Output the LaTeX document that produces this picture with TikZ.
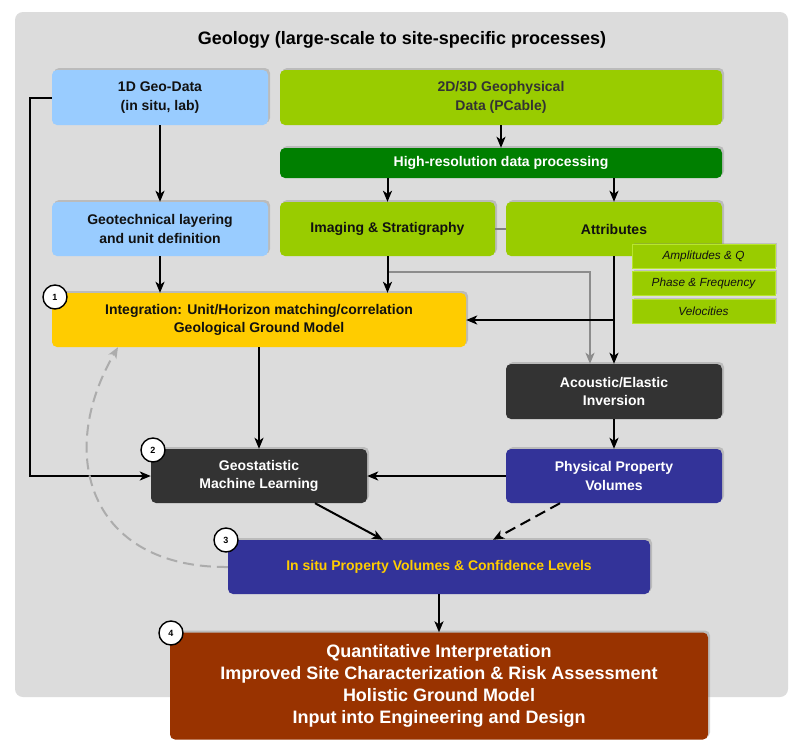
\documentclass[tikz,border=0pt]{standalone}
\usepackage{fontspec}
\setmainfont{Liberation Sans}
\usetikzlibrary{shadows,arrows.meta}
\definecolor{lblue}{HTML}{99CCFF}
\definecolor{lgreen}{HTML}{99CC00}
\definecolor{lgreenb}{HTML}{B8E62E}
\definecolor{dgreen}{HTML}{007F00}
\definecolor{gold}{HTML}{FFCC00}
\definecolor{dgray}{HTML}{333333}
\definecolor{pblue}{HTML}{333399}
\definecolor{brown}{HTML}{993300}
\definecolor{panel}{HTML}{DCDCDC}
\definecolor{txt}{HTML}{111111}
\tikzset{
  box/.style={rounded corners=5pt, align=center, inner sep=2pt,
    font=\bfseries\fontsize{14}{18.5}\selectfont, text=txt,
    drop shadow={shadow xshift=2pt, shadow yshift=2pt, opacity=0.35}},
  attr/.style={draw=lgreenb, line width=1pt, fill=lgreen, align=center,
    font=\itshape\fontsize{11.8}{13}\selectfont, text=txt,
    minimum width=143pt, minimum height=24pt,
    drop shadow={shadow xshift=1.5pt, shadow yshift=1.5pt, opacity=0.3}},
  num/.style={circle, draw=black, line width=1.4pt, fill=white, minimum size=24pt,
    inner sep=0pt, font=\bfseries\fontsize{9}{10}\selectfont},
  conn/.style={line width=2pt, draw=black, -{Stealth[length=11pt,width=9pt,inset=3pt]}},
  gconn/.style={line width=2pt, draw=gray!90, -{Stealth[length=11pt,width=9pt,inset=3pt]}},
}
\begin{document}
\begin{tikzpicture}[x=1pt,y=-1pt]
\fill[white] (0,0) rectangle (807,745);
\useasboundingbox (0,0) rectangle (807,745);
\fill[panel, rounded corners=8pt] (15,12) rectangle (788,697);
\node[font=\bfseries\fontsize{18}{20}\selectfont] (title) at (402,40) {Geology (large-scale to site-specific processes)};

\node[box, fill=lblue, minimum width=216pt, minimum height=55pt] (geo1) at (160,97.5) {1D Geo-Data\\(in situ, lab)};
\node[box, fill=lgreen, text=dgray, minimum width=442pt, minimum height=55pt] (geo2) at (501,97.5) {2D/3D Geophysical\\Data (PCable)};
\node[box, fill=dgreen, text=white, minimum width=442pt, minimum height=30pt] (hires) at (501,163) {High-resolution data processing};
\node[box, fill=lblue, minimum width=216pt, minimum height=54pt] (geotech) at (160,229) {Geotechnical layering\\and unit definition};
\node[box, fill=lgreen, minimum width=215pt, minimum height=54pt] (imaging) at (387.5,229) {Imaging \& Stratigraphy};
\node[box, fill=lgreen, minimum width=216pt, minimum height=54pt] (attrib) at (614,229) {Attributes};
\draw[gray, line width=1.2pt] (imaging.east) -- (attrib.west);

\node[attr] (amp) at (703.5,256) {Amplitudes \& Q};
\node[attr] (phase) at (703.5,283.5) {Phase \& Frequency};
\node[attr] (vel) at (703.5,311) {Velocities};

\node[box, fill=gold, minimum width=414pt, minimum height=54pt] (integ) at (259,320) {Integration: Unit/Horizon matching/correlation\\Geological Ground Model};
\node[box, fill=dgray, text=white, minimum width=216pt, minimum height=55pt] (acou) at (614,391.5) {Acoustic/Elastic\\Inversion};
\node[box, fill=dgray, text=white, minimum width=216pt, minimum height=54pt] (geostat) at (259,476) {Geostatistic\\Machine Learning};
\node[box, fill=pblue, text=white, minimum width=216pt, minimum height=54pt] (phys) at (614,476) {Physical Property\\Volumes};
\node[box, fill=pblue, text=gold, minimum width=422pt, minimum height=54pt] (insitu) at (439,567) {In situ Property Volumes \& Confidence Levels};
\node[box, fill=brown, text=white, minimum width=538pt, minimum height=107pt,
  font=\bfseries\fontsize{18}{22}\selectfont] (final) at (439,686) {Quantitative Interpretation\\Improved Site Characterization \& Risk Assessment\\Holistic Ground Model\\Input into Engineering and Design};

% connectors
\draw[conn] (geo1.south) -- (geotech.north);
\draw[conn] (geotech.south) -- (geotech.south |- integ.north);
\draw[conn] (geo2.south) -- (hires.north);
\draw[conn] (hires.south -| imaging) -- (imaging.north);
\draw[conn] (hires.south -| attrib) -- (attrib.north);
\coordinate (gk) at ([yshift=-16pt]imaging.south);
\draw[gconn] (imaging.south) -- (gk) -| ([xshift=-24pt]acou.north);
\draw[conn] (imaging.south) -- (imaging.south |- integ.north);
\draw[conn] (attrib.south) -- (acou.north);
\coordinate (br) at (attrib.south |- integ.east);
\draw[conn] (br) -- (integ.east);
\draw[conn] (integ.south) -- (geostat.north);
\coordinate (lft) at ([xshift=-22pt]geo1.west);
\draw[conn] (geo1.west) -- (lft) |- (geostat.west);
\draw[conn] (acou.south) -- (phys.north);
\draw[conn] (phys.west) -- (geostat.east);
\draw[conn] ([xshift=56pt]geostat.south) -- ([xshift=-56pt]insitu.north);
\draw[conn, dash pattern=on 11pt off 6pt] ([xshift=-54pt]phys.south) -- ([xshift=54pt]insitu.north);
\draw[conn] (insitu.south) -- (final.north);
\draw[gconn, draw=gray!65, dash pattern=on 11pt off 6pt] (insitu.west) .. controls (90,568) and (55,455) .. ([xshift=-141pt]integ.south);

\node[num] (n1) at (55,297) {1};
\node[num] (n2) at (153,450) {2};
\node[num] (n3) at (226,540) {3};
\node[num] (n4) at (171,633) {4};
\end{tikzpicture}
\end{document}
